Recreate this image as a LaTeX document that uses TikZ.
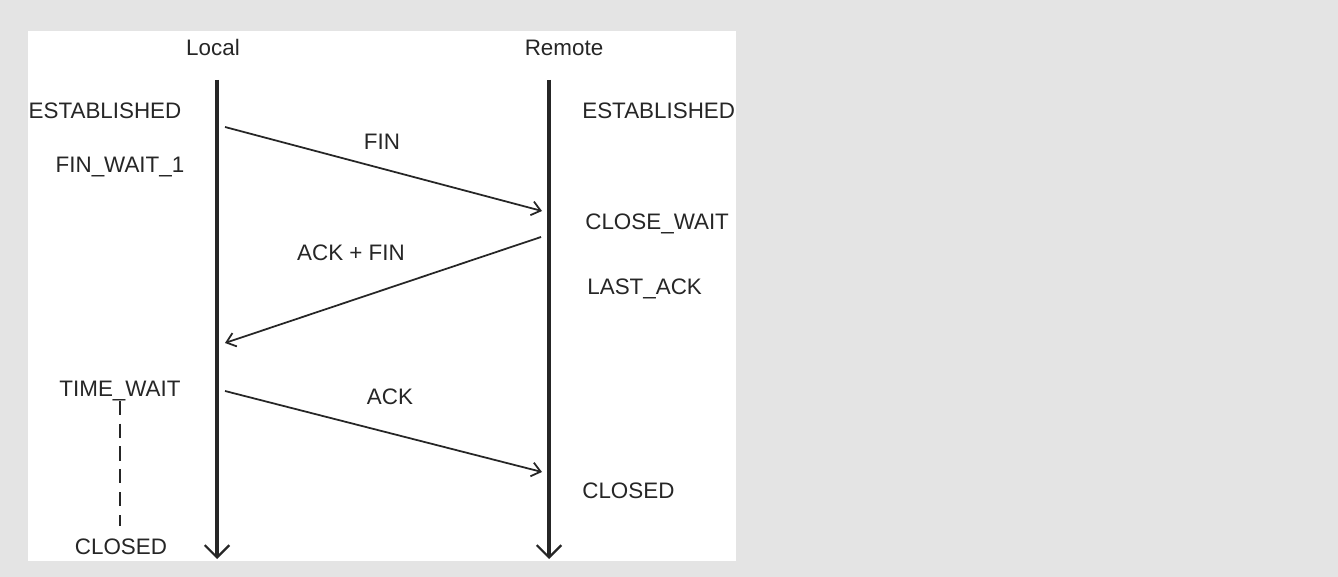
\documentclass[tikz,border=0pt]{standalone}
\usepackage{fontspec}
\setmainfont{Liberation Sans}
\usetikzlibrary{arrows.meta}
\definecolor{pagegray}{RGB}{228,228,228}
\definecolor{ink}{RGB}{38,38,38}
\tikzstyle{state} = [text=ink, font=\fontsize{12.75}{14}\selectfont, inner sep=0pt, anchor=base]
\tikzstyle{rstate} = [state, anchor=base west]
\tikzstyle{timeline} = [draw=ink, line width=1.8pt, -{Straight Barb[length=7pt,width=14pt,line width=1.3pt]}]
\tikzstyle{line} = [draw=ink, line width=1pt, -{Straight Barb[length=5pt,width=8pt]}]
\tikzstyle{wait} = [draw=ink, line width=1pt, dash pattern=on 8pt off 5pt]

\begin{document}
\begin{tikzpicture}[x=0.02cm, y=-0.02cm]
    % Page and panel
    \fill [pagegray] (0,0) rectangle (1338,577);
    \fill [white] (28,31) rectangle (736,561);
    % Lifelines
    \node [state] (local) at (213,56) {Local};
    \node [state] (remote) at (564,56) {Remote};
    \coordinate (ltop) at (217,80);
    \coordinate (lend) at (217,559);
    \coordinate (rtop) at (549,80);
    \coordinate (rend) at (549,559);
    \path [timeline] (ltop) -- (lend);
    \path [timeline] (rtop) -- (rend);
    % Place states
    \node [state] (lest) at (105,119) {ESTABLISHED};
    \node [state] (finwait) at (120,173) {FIN\_WAIT\_1};
    \node [state] (timewait) at (120,396) {TIME\_WAIT};
    \node [state] (lclosed) at (121,554) {CLOSED};
    \node [rstate] (rest) at (582,119) {ESTABLISHED};
    \node [rstate] (closewait) at (585,230) {CLOSE\_WAIT};
    \node [rstate] (lastack) at (587,295) {LAST\_ACK};
    \node [rstate] (rclosed) at (582,498) {CLOSED};
    \path [wait, shorten >=7pt] (timewait.south) -- (timewait.south |- lclosed.north);
    % Messages
    \coordinate (fin out) at (225,127);
    \coordinate (fin in) at (542,211);
    \coordinate (ackfin out) at (541,237);
    \coordinate (ackfin in) at (225,343);
    \coordinate (ack out) at (225,391);
    \coordinate (ack in) at (542,472);
    \path [line] (fin out) -- (fin in);
    \path [line] (ackfin out) -- (ackfin in);
    \path [line] (ack out) -- (ack in);
    \node [state] (finlabel) at (382,150) {FIN};
    \node [state] (ackfinlabel) at (351,261) {ACK + FIN};
    \node [state] (acklabel) at (390,404) {ACK};
\end{tikzpicture}
\end{document}
